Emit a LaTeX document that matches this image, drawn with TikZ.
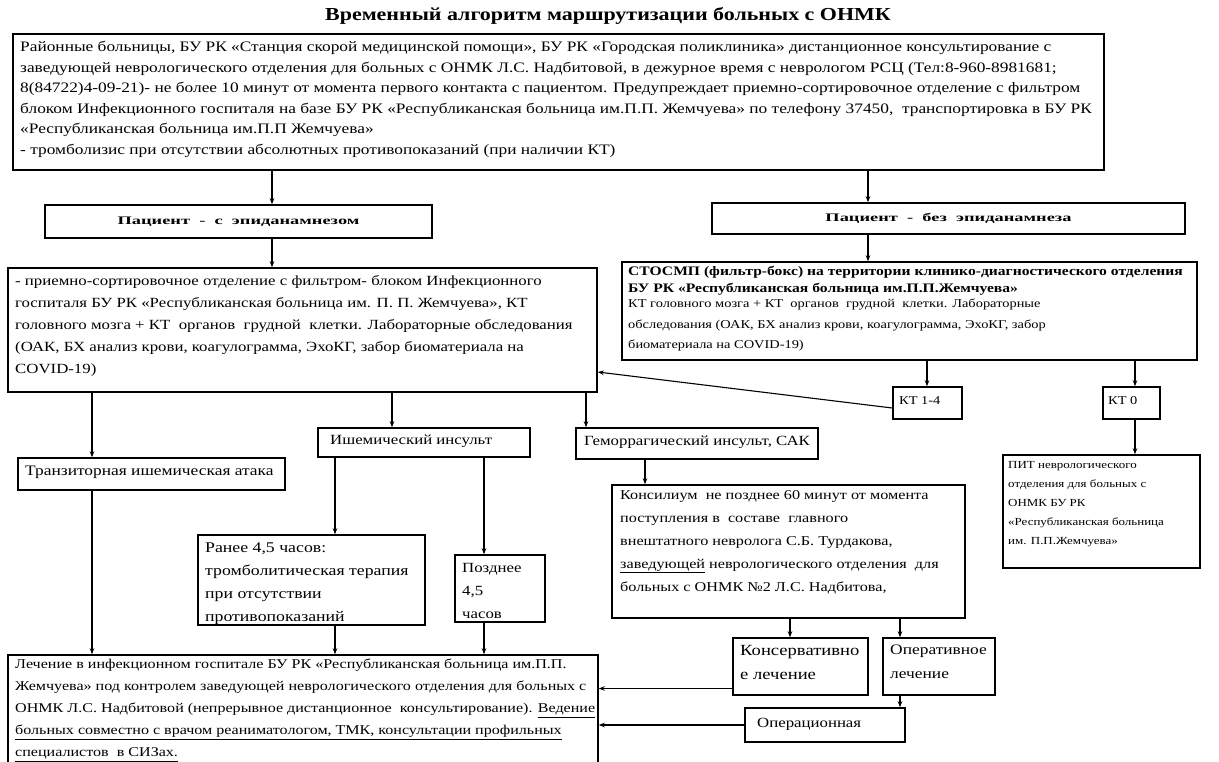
\documentclass[tikz,border=0pt]{standalone}
\usepackage{fontspec}
\setmainfont{Liberation Serif}[FakeStretch=1.2]
\newfontfamily\labfont{Liberation Serif}[FakeStretch=1.6]
\usetikzlibrary{arrows.meta,fit}
\newcommand\setfs[2]{\fontsize{#1}{#2}\selectfont}
\begin{document}
\begin{tikzpicture}[x=1pt,y=-1pt,
  box/.style={draw, line width=1.5pt, inner sep=0pt},
  txt/.style={anchor=north west, align=left, inner sep=0pt},
  lbl/.style={inner sep=0pt, font=\labfont\bfseries\setfs{11.5}{14}},
  arr/.style={-{Stealth[length=6pt,width=4.5pt]}, line width=1.1pt}]
\useasboundingbox (0,0) rectangle (1219,761);
\clip (0,0) rectangle (1219,761);
\fill[white] (0,0) rectangle (1219,761);

% title
\node[font=\bfseries\setfs{18.3}{22}, inner sep=0pt] (title) at (608,16) {Временный алгоритм маршрутизации больных с ОНМК};

% boxes
\node[box, fit={(13,34)(1104,170)}] (T) {};
\node[box, fit={(45,205)(432,238)}] (P1) {};
\node[box, fit={(712,203)(1185,234)}] (P2) {};
\node[box, fit={(8,268)(597,392)}] (B1) {};
\node[box, fit={(622,262)(1197,360)}] (B2) {};
\node[box, fit={(893,387)(962,419)}] (KT14) {};
\node[box, fit={(1103,387)(1160,419)}] (KT0) {};
\node[box, fit={(1003,455)(1200,568)}] (PIT) {};
\node[box, fit={(318,428)(530,457)}] (I) {};
\node[box, fit={(576,428)(818,459)}] (H) {};
\node[box, fit={(18,458)(285,490)}] (TIA) {};
\node[box, fit={(198,535)(425,625)}] (R) {};
\node[box, fit={(455,555)(545,622)}] (L) {};
\node[box, fit={(612,485)(965,618)}] (K) {};
\node[box, fit={(8,655)(598,790)}] (M) {};
\node[box, fit={(733,638)(868,695)}] (C) {};
\node[box, fit={(883,638)(995,695)}] (O) {};
\node[box, fit={(745,708)(905,742)}] (Op) {};

% texts
\node[txt, font=\setfs{14.45}{20.6}] (tT) at (20,41) {Районные больницы, БУ РК «Станция скорой медицинской помощи», БУ РК «Городская поликлиника» дистанционное консультирование с\\
заведующей неврологического отделения для больных с ОНМК Л.С. Надбитовой, в дежурное время с неврологом РСЦ (Тел:8-960-8981681;\\
8(84722)4-09-21)- не более 10 минут от момента первого контакта с пациентом. Предупреждает приемно-сортировочное отделение с фильтром\\
блоком Инфекционного госпиталя на базе БУ РК «Республиканская больница им.П.П. Жемчуева» по телефону 37450,\ \ транспортировка в БУ РК\\
«Республиканская больница им.П.П Жемчуева»\\
- тромболизис при отсутствии абсолютных противопоказаний (при наличии КТ)};

\node[lbl] (tP1) at (P1) {Пациент\ \ -\ \ с\ \ эпиданамнезом};
\node[lbl] (tP2) at (P2) {Пациент\ \ -\ \ без\ \ эпиданамнеза};

\node[txt, font=\setfs{14}{22}] (tB1) at (15,275) {- приемно-сортировочное отделение с фильтром- блоком Инфекционного\\
госпиталя БУ РК «Республиканская больница им. П. П. Жемчуева», КТ\\
головного мозга + КТ\ \ органов\ \ грудной\ \ клетки. Лабораторные обследования\\
(ОАК, БХ анализ крови, коагулограмма, ЭхоКГ, забор биоматериала на\\
COVID-19)};

\node[txt, font=\bfseries\setfs{13}{16.5}] (tB2a) at (628,266) {СТОСМП (фильтр-бокс) на территории клинико-диагностического отделения\\
БУ РК «Республиканская больница им.П.П.Жемчуева»};
\node[txt, font=\setfs{12}{20.5}] (tB2b) at (628,299) {КТ головного мозга + КТ\ \ органов\ \ грудной\ \ клетки. Лабораторные\\
обследования (ОАК, БХ анализ крови, коагулограмма, ЭхоКГ, забор\\
биоматериала на COVID-19)};

\node[txt, font=\setfs{12}{16}] (tKT14) at (899,396) {КТ 1-4};
\node[txt, font=\setfs{12}{16}] (tKT0) at (1108,396) {КТ 0};

\node[txt, font=\setfs{10.8}{19}] (tPIT) at (1008,461) {ПИТ неврологического\\
отделения для больных с\\
ОНМК БУ РК\\
«Республиканская больница\\
им. П.П.Жемчуева»};

\node[txt, font=\setfs{14}{18}] (tI) at (330,435) {Ишемический инсульт};
\node[txt, font=\setfs{14}{18}] (tH) at (584,436) {Геморрагический инсульт, САК};
\node[txt, font=\setfs{14.5}{18}] (tTIA) at (25,466) {Транзиторная ишемическая атака};

\node[txt, font=\setfs{14.8}{23}] (tR) at (205,543) {Ранее 4,5 часов:\\
тромболитическая терапия\\
при отсутствии\\
противопоказаний};
\node[txt, font=\setfs{14}{23}] (tL) at (462,563) {Позднее\\
4,5\\
часов};

\node[txt, font=\setfs{13.5}{23}] (tK) at (620,490) {Консилиум\ \ не позднее 60 минут от момента\\
поступления в\ \ составе\ \ главного\\
внештатного невролога С.Б. Турдакова,\\
\underline{заведующей} неврологического отделения\ \ для\\
больных с ОНМК №2 Л.С. Надбитова,};

\node[txt, font=\setfs{15.5}{24}] (tC) at (740,645) {Консервативно\\
е лечение};
\node[txt, font=\setfs{14.5}{24}] (tO) at (890,645) {Оперативное\\
лечение};
\node[txt, font=\setfs{14}{18}] (tOp) at (757,718) {Операционная};

\node[txt, font=\setfs{13.4}{22}] (tM) at (15,659) {Лечение в инфекционном госпитале БУ РК «Республиканская больница им.П.П.\\
Жемчуева» под контролем заведующей неврологического отделения для больных с\\
ОНМК Л.С. Надбитовой (непрерывное дистанционное\ \ консультирование). \underline{Ведение}\\
\underline{больных совместно с врачом реаниматологом, ТМК, консультации профильных}\\
\underline{специалистов\ \ в СИЗах.}};

% connector columns
\coordinate (xa) at (272,0);
\coordinate (xb) at (868,0);
\coordinate (xc) at (92,0);
\coordinate (xd) at (392,0);
\coordinate (xe) at (586,0);
\coordinate (xf) at (927,0);
\coordinate (xg) at (1135,0);
\coordinate (xh) at (335,0);
\coordinate (xi) at (484,0);
\coordinate (xj) at (645,0);
\coordinate (xk) at (790,0);
\coordinate (xl) at (900,0);

% connectors
\draw[arr] (T.south -| xa) -- (P1.north -| xa);
\draw[arr] (T.south -| xb) -- (P2.north -| xb);
\draw[arr] (P1.south -| xa) -- (B1.north -| xa);
\draw[arr] (P2.south -| xb) -- (B2.north -| xb);
\draw[arr] (B1.south -| xc) -- (TIA.north -| xc);
\draw[arr] (B1.south -| xd) -- (I.north -| xd);
\draw[arr] (B1.south -| xe) -- (H.north -| xe);
\draw[arr] (B2.south -| xf) -- (KT14.north -| xf);
\draw[arr] (B2.south -| xg) -- (KT0.north -| xg);
\draw[arr] ([yshift=-5pt]KT14.west) -- ([yshift=-42pt]B1.east);
\draw[arr] (KT0.south -| xg) -- (PIT.north -| xg);
\draw[arr] (I.south -| xh) -- (R.north -| xh);
\draw[arr] (I.south -| xi) -- (L.north -| xi);
\draw[arr] (H.south -| xj) -- (K.north -| xj);
\draw[arr] (TIA.south -| xc) -- (M.north -| xc);
\draw[arr] (R.south -| xh) -- (M.north -| xh);
\draw[arr] (L.south -| xi) -- (M.north -| xi);
\draw[arr] (K.south -| xk) -- (C.north -| xk);
\draw[arr] (K.south -| xl) -- (O.north -| xl);
\draw[arr] (O.south -| xl) -- (Op.north -| xl);
\draw[arr] ([yshift=-22pt]C.west) coordinate (c1) -- (c1 -| M.east);
\draw[arr] (Op.west) -- (Op.west -| M.east);
\end{tikzpicture}
\end{document}
